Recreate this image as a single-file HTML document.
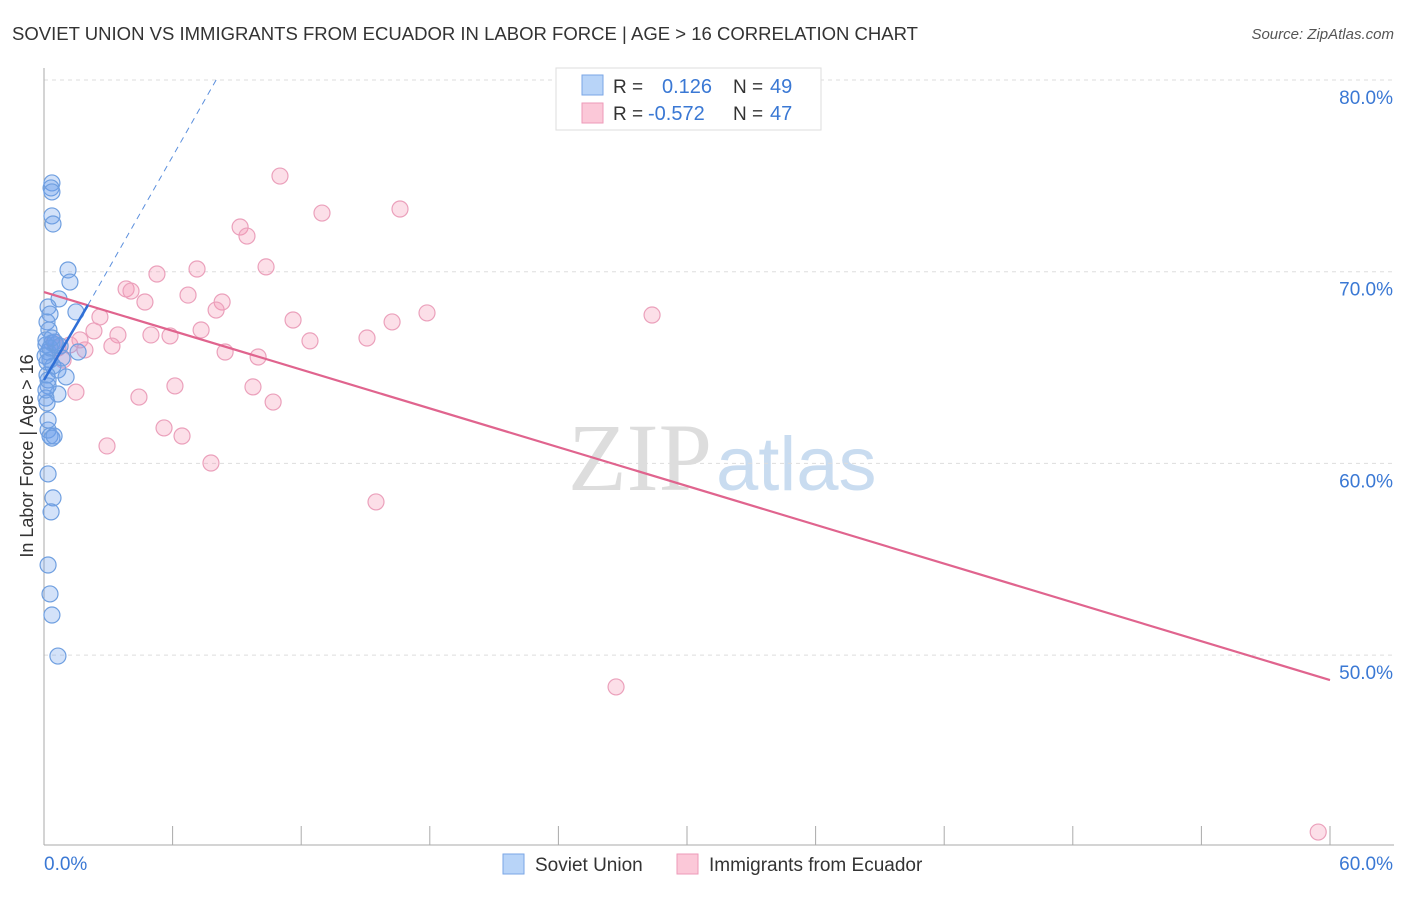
<!DOCTYPE html>
<html><head><meta charset="utf-8"><style>
body{margin:0;background:#fff;font-family:"Liberation Sans",sans-serif}
</style></head><body>
<svg id="c" width="1406" height="892" xmlns="http://www.w3.org/2000/svg" font-family="Liberation Sans, sans-serif">
<text x="12" y="40" font-size="18" fill="#333" textLength="906" lengthAdjust="spacingAndGlyphs">SOVIET UNION VS IMMIGRANTS FROM ECUADOR IN LABOR FORCE | AGE &gt; 16 CORRELATION CHART</text>
<text x="1394" y="39" font-size="15" fill="#555" text-anchor="end" font-style="italic">Source: ZipAtlas.com</text>
<text x="712" y="490" font-size="96" fill="#ddd" text-anchor="end" font-family="Liberation Serif, serif">ZIP</text>
<text x="716" y="490" font-size="76" fill="#c9dcf0">atlas</text>
<text transform="translate(33,456) rotate(-90)" font-size="18" fill="#333" text-anchor="middle">In Labor Force | Age &gt; 16</text>
<g id="grid"></g><g id="marks"></g>
<g>
<rect x="556" y="68" width="265" height="62" fill="#fff" stroke="#ddd"/>
<rect x="582" y="75" width="21" height="20" fill="#b8d4f8" stroke="#7aa6e6"/>
<rect x="582" y="103" width="21" height="20" fill="#fbc8d8" stroke="#ee9ab8"/>
<text x="613" y="93" font-size="19" fill="#333">R =</text>
<text x="662" y="93" font-size="20" fill="#3a78d4">0.126</text>
<text x="733" y="93" font-size="19" fill="#333">N =</text>
<text x="770" y="93" font-size="20" fill="#3a78d4">49</text>
<text x="613" y="120" font-size="19" fill="#333">R =</text>
<text x="648" y="120" font-size="20" fill="#3a78d4">-0.572</text>
<text x="733" y="120" font-size="19" fill="#333">N =</text>
<text x="770" y="120" font-size="20" fill="#3a78d4">47</text>
</g>
<g>
<rect x="503" y="854" width="21" height="20" fill="#b8d4f8" stroke="#7aa6e6"/>
<text x="535" y="871" font-size="19" fill="#333">Soviet Union</text>
<rect x="677" y="854" width="21" height="20" fill="#fbc8d8" stroke="#ee9ab8"/>
<text x="709" y="871" font-size="19" fill="#333">Immigrants from Ecuador</text>
</g>
</svg>
<script>
const xTicks=[0,6,12,18,24,30,36,42,48,54,60];
const yTicks=[50,60,70,80];
const blueX=[0.37,0.33,0.37,0.37,0.42,1.12,1.21,0.7,1.49,0.19,0.28,0.14,0.23,0.09,0.37,0.56,0.19,1.59,0.28,0.42,0.65,0.14,1.03,0.19,0.65,0.09,0.14,0.19,0.28,0.37,0.19,0.42,0.33,0.19,0.28,0.37,0.65,0.09,0.28,0.05,0.14,0.51,0.75,0.19,0.09,0.37,0.84,0.19,0.47];
const blueY=[74.63,74.37,74.16,72.91,72.49,70.09,69.46,68.58,67.9,68.16,67.79,67.38,66.96,66.44,66.28,66.18,65.81,65.81,65.39,65.08,64.87,64.61,64.51,64.04,63.62,63.41,63.15,61.74,61.43,61.32,59.45,58.2,57.47,54.7,53.19,52.09,49.95,66.18,66.02,65.6,65.29,66.33,66.12,64.35,63.83,66.54,65.5,62.26,61.43];
const pinkX=[11.01,12.97,16.61,9.15,9.47,7.14,10.36,5.27,3.83,4.06,6.72,4.71,8.31,8.03,2.61,11.62,17.87,28.37,16.24,2.33,7.33,3.45,4.99,5.88,12.41,15.07,3.17,1.91,8.45,9.99,0.47,0.65,0.89,6.11,9.75,1.49,4.43,10.69,5.6,6.44,2.94,7.79,15.49,26.69,59.45,1.21,1.68];
const pinkY=[74.99,73.06,73.27,72.33,71.86,70.14,70.25,69.88,69.1,68.99,68.78,68.42,68.42,68.0,67.64,67.48,67.85,67.74,67.38,66.91,66.96,66.7,66.7,66.65,66.39,66.54,66.12,65.92,65.81,65.55,66.33,66.02,65.39,64.04,63.99,63.72,63.46,63.2,61.85,61.43,60.91,60.02,57.99,48.34,40.77,66.18,66.44];
const pinkTrend=[68.94,48.70];
const blueTrend=[64.35,68.26,80];
const blueTrendX=[0,2.05,8.03];
const X=v=>44+v/60*1286, Y=v=>80+(80-v)*19.17;
const NS='http://www.w3.org/2000/svg';
function mk(p,t,a){const e=document.createElementNS(NS,t);for(const k in a)e.setAttribute(k,a[k]);p.appendChild(e);return e;}
const g=document.getElementById('grid'),m=document.getElementById('marks');
yTicks.forEach(t=>{const l=mk(g,'line',{x1:44,x2:1394,y1:Y(t),y2:Y(t),stroke:'#ddd','stroke-dasharray':'4,4'});


const tx=mk(g,'text',{x:1393,y:Y(t)+24,'font-size':19,fill:'#3a78d4','text-anchor':'end'});tx.textContent=t.toFixed(1)+'%';

});
const ax=mk(g,'line',{x1:44,x2:44,y1:68,y2:845,stroke:'#aaa'});


const bx=mk(g,'line',{x1:44,x2:1394,y1:845,y2:845,stroke:'#aaa'});


xTicks.forEach(t=>{const l=mk(g,'line',{x1:X(t),x2:X(t),y1:826,y2:845,stroke:'#aaa'});

});
[[0,44,'start'],[60,1393,'end']].forEach(([t,px,an])=>{const tx=mk(g,'text',{x:px,y:870,'font-size':19,fill:'#3a78d4','text-anchor':an});tx.textContent=t.toFixed(1)+'%';

});
pinkX.forEach((v,i)=>{const c=mk(m,'circle',{cx:X(v),cy:Y(pinkY[i]),r:8,fill:'rgba(244,150,180,0.3)',stroke:'#eba0bb','stroke-width':1.2});

});
blueX.forEach((v,i)=>{const c=mk(m,'circle',{cx:X(v),cy:Y(blueY[i]),r:8,fill:'rgba(110,160,235,0.3)',stroke:'#6f9fe0','stroke-width':1.2});

});
const pt=mk(m,'line',{x1:X(0),y1:Y(pinkTrend[0]),x2:X(60),y2:Y(pinkTrend[1]),stroke:'#e0648e','stroke-width':2.2});


const bt=mk(m,'line',{x1:X(blueTrendX[0]),y1:Y(blueTrend[0]),x2:X(blueTrendX[1]),y2:Y(blueTrend[1]),stroke:'#2f6fd6','stroke-width':2.5});


const bd=mk(m,'line',{x1:X(blueTrendX[1]),y1:Y(blueTrend[1]),x2:X(blueTrendX[2]),y2:Y(blueTrend[2]),stroke:'#5b8fdd','stroke-width':1,'stroke-dasharray':'6,5'});


</script>
</body></html>
